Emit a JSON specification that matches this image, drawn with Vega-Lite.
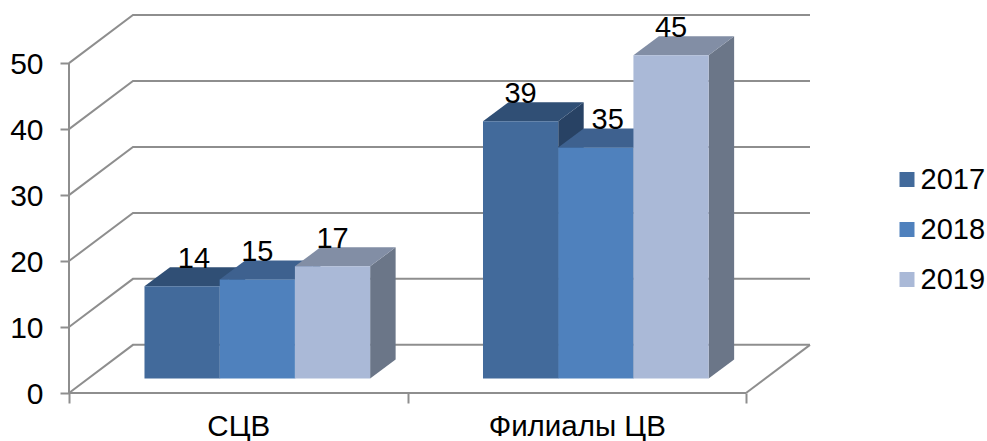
{
"$schema":"https://vega.github.io/schema/vega-lite/v6.json",
"width":741,"height":378,
"autosize":{"type":"none"},
"padding":{"left":69,"top":15,"right":177,"bottom":48},
"background":"white",
"config":{"view":{"stroke":null},"font":"Liberation Sans"},
"data":{"values":[
{"category":"СЦВ","year":2017,"value":14,"label":14},
{"category":"СЦВ","year":2018,"value":15,"label":15},
{"category":"СЦВ","year":2019,"value":17,"label":17},
{"category":"Филиалы ЦВ","year":2017,"value":39,"label":39},
{"category":"Филиалы ЦВ","year":2018,"value":35,"label":35},
{"category":"Филиалы ЦВ","year":2019,"value":49,"label":45}
]},
"transform":[
{"calculate":"(datum.category=='СЦВ'?0:1)+0.223+(datum.year-2017)*0.2222","as":"x0"},
{"calculate":"datum.x0+0.2222","as":"x1"},
{"calculate":"2.2+datum.value","as":"top"},
{"calculate":"datum.category+datum.year","as":"key"}
],
"resolve":{"scale":{"color":"independent"},"axis":{"x":"independent","y":"independent"}},
"layer":[
{"data":{"values":[{"tick":0},{"tick":10},{"tick":20},{"tick":30},{"tick":40},{"tick":50}]},
 "transform":[{"calculate":"[0,1,2]","as":"t"},{"flatten":["t"]},
  {"calculate":"datum.t==0?0:(datum.t==1?0.189:2.189)","as":"gx"},
  {"calculate":"datum.tick+(datum.t>0?7.3:0)","as":"gy"}],
 "mark":{"type":"line","color":"#8E8E8E","strokeWidth":2},
 "encoding":{
  "x":{"field":"gx","type":"quantitative","scale":{"domain":[0,2.189],"nice":false,"zero":false},
   "title":null,
   "axis":{"values":[0,0.5,1,1.5,2],"grid":false,"domain":false,"tickColor":"#8E8E8E","tickWidth":2,"tickSize":10,
    "tickOpacity":{"expr":"datum.value%1==0?1:0"},
    "labelExpr":"datum.value==0.5?'СЦВ':(datum.value==1.5?'Филиалы ЦВ':'')",
    "labelFontSize":29.5,"labelColor":"#000","labelPadding":9.5,"labelFlush":false,"labelOverlap":false,"labelFont":"Liberation Sans"}},
  "y":{"field":"gy","type":"quantitative","scale":{"domain":[0,57.3],"nice":false,"zero":false},
   "title":null,
   "axis":{"values":[0,10,20,30,40,50],"grid":false,"domain":false,"tickColor":"#8E8E8E","tickWidth":2,"tickSize":9,
    "labelFontSize":30,"labelColor":"#000","labelPadding":17,"labelOffset":1,"labelFont":"Liberation Sans"}},
  "detail":{"field":"tick"}
 }},
{"data":{"values":[{"fx":2,"fy":0},{"fx":2.189,"fy":7.3}]},
 "mark":{"type":"line","color":"#8E8E8E","strokeWidth":2},
 "encoding":{"x":{"field":"fx","type":"quantitative","axis":null},"y":{"field":"fy","type":"quantitative","axis":null}}},
{"mark":{"type":"rule","color":"#8E8E8E","strokeWidth":2},
 "encoding":{"x":{"datum":0,"type":"quantitative","axis":null},"y":{"datum":0,"type":"quantitative","axis":null},"y2":{"datum":50}}},
{"mark":{"type":"rule","color":"#8E8E8E","strokeWidth":2},
 "encoding":{"y":{"datum":0,"type":"quantitative","axis":null},"x":{"datum":0,"type":"quantitative","axis":null},"x2":{"datum":2}}},
{"transform":[{"calculate":"[0,1]","as":"t"},{"flatten":["t"]},
  {"calculate":"datum.x1+datum.t*0.0753","as":"sx"},
  {"calculate":"datum.top+datum.t*2.88","as":"sy"},
  {"calculate":"2.2+datum.t*2.88","as":"sy2"}],
 "mark":{"type":"area","orient":"vertical"},
 "encoding":{
  "x":{"field":"sx","type":"quantitative","axis":null},
  "y":{"field":"sy","type":"quantitative","axis":null,"stack":null},
  "y2":{"field":"sy2"},
  "detail":{"field":"key"},
  "color":{"field":"year","type":"nominal","legend":null,"scale":{"domain":[2017,2018,2019],"range":["#284264","#2F4F76","#6B7688"]}}
 }},
{"transform":[{"calculate":"[0,1]","as":"t"},{"flatten":["t"]},
  {"calculate":"datum.x0+datum.t*0.0753","as":"tx"},
  {"calculate":"datum.x1+datum.t*0.0753","as":"tx2"},
  {"calculate":"datum.top+datum.t*2.88","as":"ty"}],
 "mark":{"type":"area","orient":"horizontal"},
 "encoding":{
  "y":{"field":"ty","type":"quantitative","axis":null},
  "x":{"field":"tx","type":"quantitative","axis":null,"stack":null},
  "x2":{"field":"tx2"},
  "detail":{"field":"key"},
  "color":{"field":"year","type":"nominal","legend":null,"scale":{"domain":[2017,2018,2019],"range":["#304F75","#3E618F","#828EA5"]}}
 }},
{"transform":[{"calculate":"2.2","as":"base"}],
 "mark":{"type":"rect"},
 "encoding":{
  "x":{"field":"x0","type":"quantitative","axis":null},
  "x2":{"field":"x1"},
  "y":{"field":"top","type":"quantitative","axis":null},
  "y2":{"field":"base"},
  "color":{"field":"year","type":"nominal","title":null,
   "scale":{"domain":[2017,2018,2019],"range":["#426A9B","#4F81BD","#AAB9D7"]},
   "legend":{"orient":"none","legendX":823.5,"legendY":150,"symbolType":"square","symbolSize":225,"symbolStrokeWidth":0,"symbolOpacity":1,
    "labelFontSize":29,"labelColor":"#000","labelFont":"Liberation Sans","labelOffset":-1,"rowPadding":20,"padding":0}}
 }},
{"transform":[
  {"calculate":"(datum.x0+datum.x1)/2+((datum.label==14||datum.label==35)?0.035:0)","as":"lx"},
  {"calculate":"datum.top+2.75","as":"ly"}],
 "mark":{"type":"text","fontSize":29,"color":"#000","baseline":"alphabetic","align":"center","font":"Liberation Sans"},
 "encoding":{
  "x":{"field":"lx","type":"quantitative","axis":null},
  "y":{"field":"ly","type":"quantitative","axis":null},
  "text":{"field":"label","type":"quantitative"}
 }}
]
}
